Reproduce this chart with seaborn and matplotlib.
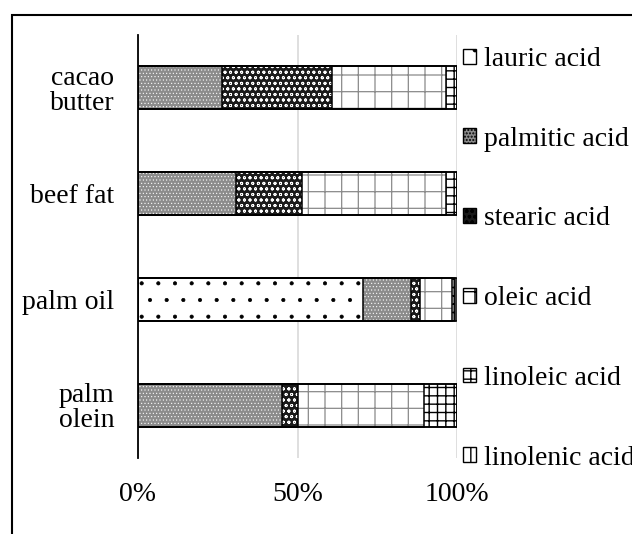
import matplotlib
matplotlib.use("Agg")
import numpy as np
import pandas as pd
import matplotlib.pyplot as plt
import seaborn as sns
from matplotlib.patches import Patch, Rectangle

# fatty acid composition (fraction of total)
fats = ["cacao\nbutter", "beef fat", "palm oil", "palm\nolein"]
acids = ["lauric acid", "palmitic acid", "stearic acid",
         "oleic acid", "linoleic acid", "linolenic acid"]
lauric = [0.0, 0.0, 0.705, 0.0]
palmitic = [0.263, 0.307, 0.150, 0.450]
stearic = [0.345, 0.206, 0.028, 0.050]
oleic = [0.358, 0.453, 0.100, 0.395]
linoleic = [0.034, 0.034, 0.010, 0.105]
linolenic = [0.0, 0.0, 0.007, 0.0]

# face colour, hatch, hatch colour, hatch line width
styles = {
    "lauric acid": ("white", ".", "black", 0.5),
    "palmitic acid": ("#8c8c8c", ".....", "white", 0.4),
    "stearic acid": ("#1a1a1a", "ooo", "white", 0.6),
    "oleic acid": ("white", "+", "#8a8a8a", 0.9),
    "linoleic acid": ("white", "++", "black", 1.0),
    "linolenic acid": ("white", "||", "black", 1.0),
}

df = pd.DataFrame({"fat": fats, "lauric acid": lauric, "palmitic acid": palmitic,
                   "stearic acid": stearic, "oleic acid": oleic,
                   "linoleic acid": linoleic, "linolenic acid": linolenic})
cum = df[acids].cumsum(axis=1)

sns.set_style("white")
plt.rcParams["font.family"] = ["Liberation Serif", "DejaVu Serif"]
plt.rcParams["text.color"] = "black"
plt.rcParams["xtick.color"] = "black"
plt.rcParams["ytick.color"] = "black"

fig = plt.figure(figsize=(6.32, 5.34), dpi=100)
ax = fig.add_axes([138 / 632, 1 - 458 / 534, (457 - 138) / 632, (458 - 35) / 534])


def set_hatch_lw(patches, lw):
    for p in patches:
        if hasattr(p, "set_hatch_linewidth"):
            p.set_hatch_linewidth(lw)


# stacked bars: cumulative totals drawn from the right-most segment inward
for acid in reversed(acids):
    face, hatch, hcol, hlw = styles[acid]
    n = len(ax.patches)
    with plt.rc_context({"hatch.linewidth": hlw}):
        sns.barplot(x=cum[acid], y=df["fat"], orient="h", color=face,
                    hatch=hatch, edgecolor=hcol, linewidth=0,
                    width=0.405, saturation=1, ax=ax, zorder=3)
    set_hatch_lw(ax.patches[n:], hlw)

# black outlines of every segment
for acid in reversed(acids):
    sns.barplot(x=cum[acid], y=df["fat"], orient="h", color="black", fill=False,
                linewidth=1.1, width=0.405, saturation=1, ax=ax, zorder=4)

ax.set_xlim(0, 1)
ax.set_ylim(3.5, -0.5)
ax.set_xticks([0, 0.5, 1.0])
ax.set_xticklabels(["0%", "50%", "100%"], fontsize=20)
ax.tick_params(axis="y", labelsize=20, length=0, pad=17)
ax.tick_params(axis="x", length=0, pad=17)
for lbl in ax.get_yticklabels():
    lbl.set_multialignment("right")
    lbl.set_linespacing(1.0)
ax.set_xlabel("")
ax.set_ylabel("")
ax.xaxis.grid(True, color="#d9d9d9", linewidth=1.2, zorder=0)
for side in ["top", "right", "bottom"]:
    ax.spines[side].set_visible(False)
ax.spines["left"].set_color("black")
ax.spines["left"].set_linewidth(1.3)
ax.spines["left"].set_zorder(5)

handles = []
for a in acids:
    face, hatch, hcol, hlw = styles[a]
    with plt.rc_context({"hatch.linewidth": hlw}):
        h = Patch(facecolor=face, hatch=hatch, edgecolor="black", linewidth=1.0, label=a)
    set_hatch_lw([h], hlw)
    handles.append(h)
fig.legend(handles=handles, loc="upper left", bbox_to_anchor=(463 / 632, 1 - 47 / 534),
           frameon=False, fontsize=20, handlelength=0.45, handleheight=0.45,
           handletextpad=0.3, labelspacing=1.97, borderaxespad=0, borderpad=0)

# outer chart-area frame
fig.add_artist(Rectangle((12 / 632, -0.1), 1.2, 1.1 - 15 / 534, transform=fig.transFigure,
                         fill=False, edgecolor="black", linewidth=1.5))

fig.savefig("out.png", dpi=100)
